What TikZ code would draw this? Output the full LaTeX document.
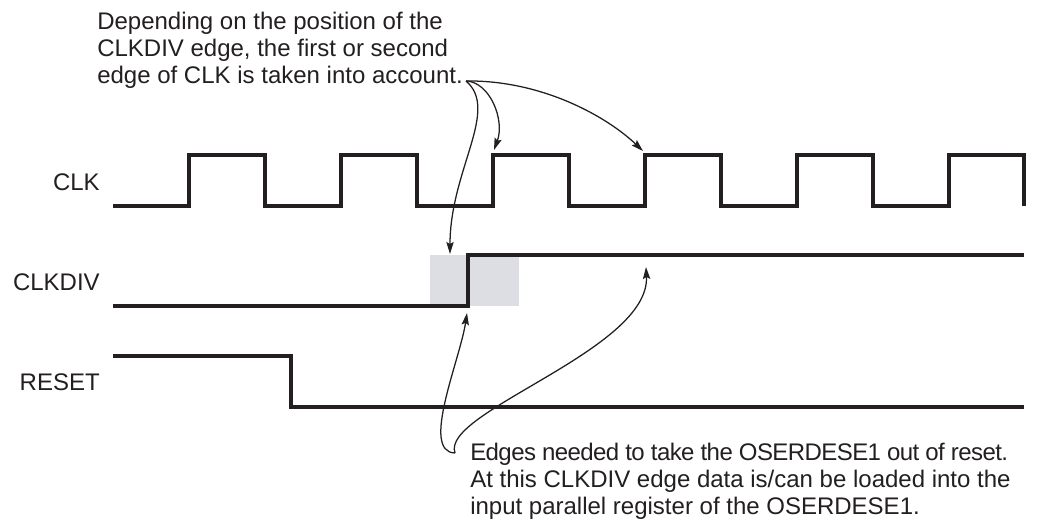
\documentclass[tikz,border=0pt]{standalone}
\usepackage{fontspec}
\setmainfont{Liberation Sans}
\usetikzlibrary{arrows.meta}
\definecolor{ink}{RGB}{35,31,32}
\definecolor{winfill}{RGB}{220,222,227}
\tikzset{
  sig/.style={draw=ink, line width=3pt, line join=miter, line cap=butt},
  lbl/.style={text=ink, font=\fontsize{18}{20.25}\selectfont, inner sep=0pt},
  note/.style={lbl, align=left},
  pointer/.style={draw=ink, line width=0.95pt,
    -{Stealth[length=9pt,width=5.5pt,inset=1.5pt]}},
}
\begin{document}
\begin{tikzpicture}[x=0.75pt, y=-0.75pt]
\useasboundingbox (0,0) rectangle (1041,523);

% sampling window around the CLKDIV edge
\fill[winfill] (430,255) rectangle (519,306);

% signal names
\node[lbl, anchor=base east] (clkname)    at (100,190.5) {CLK};
\node[lbl, anchor=base east] (clkdivname) at (100,290.5) {CLKDIV};
\node[lbl, anchor=base east] (resetname)  at (100,391)   {RESET};

% CLK: period 152, first rising edge at 189
\draw[sig] (113,206)
  \foreach \r in {189,341,493,645,797} {
    -- (\r,206) -- (\r,155) -- ({\r+76},155) -- ({\r+76},206)
  }
  -- (949,206) -- (949,155) -- (1024,155) -- (1024,206);

% CLKDIV and RESET
\draw[sig] (113,306) -- (468,306) -- (468,255) -- (1024,255);
\draw[sig] (113,356) -- (291,356) -- (291,407) -- (1024,407);

% annotations
\node[note, anchor=north west] (topnote) at (97,11.5)
  {Depending on the position of the\\CLKDIV edge, the first or second\\edge of CLK is taken into account.};
\node[note, anchor=north west] (botnote) at (470,442.5)
  {{\addfontfeature{LetterSpace=-2.4}Edges needed to take the OSERDESE1 out of reset.}\\At this CLKDIV edge data is/can be loaded into the\\input parallel register of the OSERDESE1.};

% pointer ends
\coordinate (src)     at (466,81);
\coordinate (cusp)    at (455,453);
\coordinate (winTop)  at (450,254);
\coordinate (clkEdgeA) at (494,150);
\coordinate (clkEdgeB) at (643,151);
\coordinate (divEdge) at (467,313);
\coordinate (divHigh) at (646,267);

% pointers from the upper note
\draw[pointer] (src) .. controls (500,110) and (450,170) .. (winTop);
\draw[pointer] (src) .. controls (490,82) and (505,120) .. (clkEdgeA);
\draw[pointer] (src) .. controls (540,80) and (605,115) .. (clkEdgeB);

% pointers from the lower note
\draw[pointer] (cusp) .. controls (420,452) and (460,360) .. (divEdge);
\draw[pointer] (cusp) .. controls (440,412) and (650,350) .. (divHigh);
\end{tikzpicture}
\end{document}
